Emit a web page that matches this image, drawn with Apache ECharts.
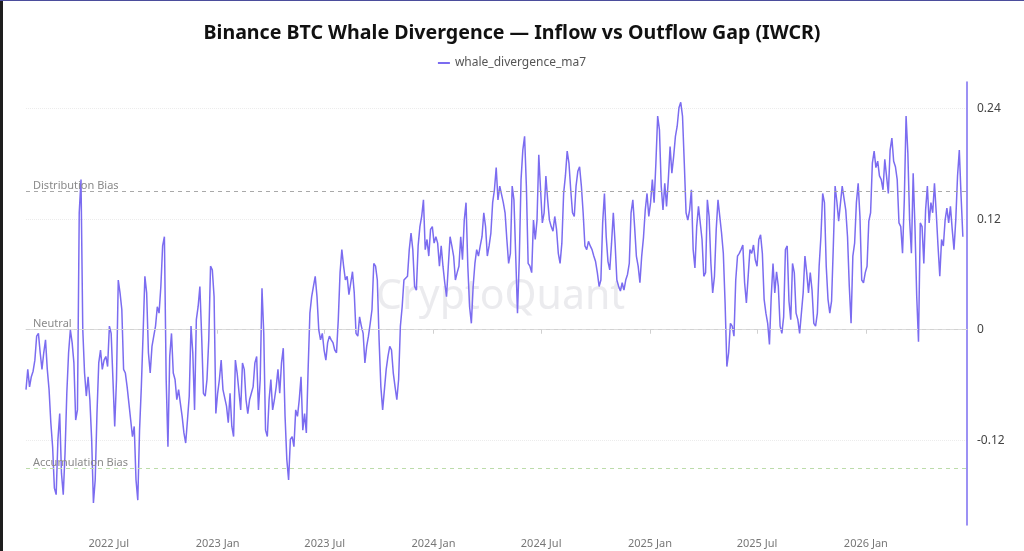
<!DOCTYPE html>
<html>
<head>
<meta charset="utf-8">
<script src="https://cdn.jsdelivr.net/npm/echarts@6/dist/echarts.min.js"></script>
<style>
  html, body { margin: 0; padding: 0; background: #fff; }
  #main { width: 1024px; height: 551px; }
</style>
</head>
<body>
<div id="main"></div>
<script>
// series starts 2022-02-11, one reading every 3 days
const startDate = [2022, 1, 11];
const stepDays = 3;

const whaleDivergenceMa7 = [
  -0.065, -0.043, -0.062, -0.051, -0.045, -0.033, -0.007, -0.004, -0.025, -0.043,
  -0.025, -0.011, -0.043, -0.065, -0.101, -0.127, -0.172, -0.179, -0.119, -0.091,
  -0.156, -0.179, -0.134, -0.069, -0.025, 0, -0.014, -0.036, -0.098, -0.087,
  0.127, 0.163, 0, -0.047, -0.072, -0.051, -0.076, -0.119, -0.188, -0.163,
  -0.091, -0.036, -0.022, -0.043, -0.033, -0.029, -0.040, 0.004, -0.004, -0.054,
  -0.105, -0.054, 0.054, 0.040, 0.022, -0.043, -0.047, -0.062, -0.080, -0.098,
  -0.116, -0.105, -0.163, -0.185, -0.109, -0.062, -0.004, 0.058, 0.040, -0.025,
  -0.047, -0.018, -0.007, 0.004, 0.025, 0.018, 0.047, 0.091, 0.101, -0.054,
  -0.127, -0.029, -0.004, -0.047, -0.054, -0.076, -0.065, -0.080, -0.094, -0.112,
  -0.123, -0.098, -0.072, 0.004, -0.025, -0.087, 0.011, 0.025, 0.047, -0.007,
  -0.069, -0.072, -0.054, -0.011, 0.069, 0.065, 0.036, -0.091, -0.069, -0.054,
  -0.033, -0.065, -0.065, -0.083, -0.101, -0.069, -0.105, -0.116, -0.033, -0.047,
  -0.047, -0.087, -0.036, -0.043, -0.076, -0.091, -0.076, -0.069, -0.062, -0.036,
  -0.029, -0.087, -0.054, 0.045, -0.004, -0.109, -0.116, -0.076, -0.054, -0.087,
  -0.076, -0.062, -0.043, -0.069, -0.036, -0.020, -0.094, -0.141, -0.163, -0.119,
  -0.116, -0.127, -0.087, -0.094, -0.076, -0.051, -0.109, -0.091, -0.112, -0.043,
  0.018, 0.036, 0.047, 0.058, 0.036, 0, -0.011, -0.004, -0.022, -0.033,
  -0.014, -0.007, -0.011, -0.014, -0.022, -0.025, 0.011, 0.062, 0.087, 0.069,
  0.054, 0.058, 0.038, 0.040, 0.063, 0.040, -0.004, -0.007, 0.014, 0.004,
  -0.004, -0.036, -0.018, -0.007, 0.007, 0.022, 0.072, 0.069, 0.054, -0.011,
  -0.062, -0.087, -0.087, -0.043, -0.029, -0.018, -0.022, -0.047, -0.062, -0.076,
  -0.054, 0.004, 0.025, 0.054, 0.054, 0.058, 0.087, 0.105, 0.087, 0.047,
  0.043, 0.091, 0.112, 0.123, 0.141, 0.087, 0.098, 0.080, 0.109, 0.112,
  0.094, 0.101, 0.094, 0.069, 0.091, 0.069, 0.051, 0.036, 0.069, 0.101,
  0.091, 0.080, 0.054, 0.062, 0.069, 0.101, 0.076, 0.119, 0.138, 0.069,
  0.025, 0.007, 0.047, 0.072, 0.087, 0.080, 0.091, 0.101, 0.127, 0.112,
  0.080, 0.091, 0.105, 0.138, 0.152, 0.176, 0.141, 0.156, 0.157, 0.138,
  0.127, 0.098, 0.072, 0.083, 0.156, 0.141, 0.080, 0.018, 0.076, 0.163,
  0.195, 0.210, 0.156, 0.072, 0.069, 0.062, 0.119, 0.098, 0.119, 0.190,
  0.152, 0.116, 0.127, 0.167, 0.141, 0.119, 0.112, 0.107, 0.123, 0.109,
  0.083, 0.072, 0.094, 0.148, 0.167, 0.194, 0.181, 0.152, 0.127, 0.123,
  0.156, 0.172, 0.177, 0.156, 0.127, 0.091, 0.087, 0.096, 0.091, 0.087,
  0.080, 0.074, 0.062, 0.047, 0.054, 0.116, 0.148, 0.101, 0.074, 0.065,
  0.094, 0.127, 0.094, 0.054, 0.047, 0.042, 0.051, 0.043, 0.054, 0.060,
  0.072, 0.127, 0.141, 0.112, 0.080, 0.069, 0.051, 0.080, 0.100, 0.130,
  0.148, 0.123, 0.138, 0.163, 0.138, 0.181, 0.232, 0.217, 0.156, 0.130,
  0.159, 0.134, 0.163, 0.199, 0.170, 0.188, 0.210, 0.221, 0.241, 0.247,
  0.232, 0.181, 0.127, 0.119, 0.130, 0.152, 0.087, 0.067, 0.112, 0.134,
  0.136, 0.098, 0.058, 0.062, 0.141, 0.123, 0.072, 0.040, 0.058, 0.109,
  0.141, 0.139, 0.105, 0.083, 0.029, -0.040, -0.025, 0.007, 0.004, -0.007,
  0.054, 0.080, 0.083, 0.087, 0.092, 0.051, 0.029, 0.058, 0.087, 0.083,
  0.092, 0.076, 0.069, 0.098, 0.103, 0.083, 0.033, 0.018, 0.007, -0.016,
  0.036, 0.072, 0.040, 0.063, 0.047, 0.004, -0.004, 0.014, 0.087, 0.091,
  0.031, 0.011, 0.072, 0.062, 0.018, 0.011, -0.004, -0.004, 0.040, 0.080,
  0.062, 0.040, 0.062, 0.043, 0.007, 0.004, 0.018, 0.069, 0.101, 0.148,
  0.138, 0.069, 0.033, 0.018, 0.031, 0.091, 0.156, 0.139, 0.118, 0.116,
  0.156, 0.156, 0.130, 0.101, 0.047, 0.007, 0.080, 0.094, 0.138, 0.159,
  0.123, 0.054, 0.051, 0.062, 0.069, 0.118, 0.127, 0.181, 0.194, 0.176,
  0.183, 0.167, 0.163, 0.152, 0.185, 0.183, 0.148, 0.195, 0.208, 0.183,
  0.177, 0.163, 0.116, 0.112, 0.083, 0.141, 0.232, 0.192, 0.119, 0.083,
  0.170, 0.112, 0.036, -0.013, 0.116, 0.112, 0.072, 0.130, 0.156, 0.116,
  0.138, 0.127, 0.159, 0.127, 0.091, 0.058, 0.098, 0.091, 0.119, 0.132,
  0.116, 0.134, 0.109, 0.087, 0.119, 0.167, 0.195, 0.145, 0.101
];

const xTickDates = [[2022, 6], [2023, 0], [2023, 6], [2024, 0], [2024, 6], [2025, 0], [2025, 6], [2026, 0]];
const xTickLabels = ['2022 Jul', '2023 Jan', '2023 Jul', '2024 Jan', '2024 Jul', '2025 Jan', '2025 Jul', '2026 Jan'];
const yTickValues = [-0.12, 0, 0.12, 0.24];

const refNames = ['Distribution Bias', 'Neutral', 'Accumulation Bias'];
const refValues = [0.15, 0, -0.15];
const refColors = ['#a9a9a9', '#d2d2d2', '#bcdcaa'];

const LINE_COLOR = '#7b6cf0';
const DAY = 24 * 3600 * 1000;

const t0 = new Date(startDate[0], startDate[1], startDate[2]).getTime();
const seriesData = whaleDivergenceMa7.map((v, i) => [t0 + i * stepDays * DAY, v]);
const tickTimes = xTickDates.map(d => new Date(d[0], d[1], 1).getTime());

const chart = echarts.init(document.getElementById('main'));

chart.setOption({
  backgroundColor: '#fff',
  animation: false,
  textStyle: { fontFamily: 'Noto Sans' },
  title: {
    text: 'Binance BTC Whale Divergence — Inflow vs Outflow Gap (IWCR)',
    left: 'center',
    top: 18,
    textStyle: { fontSize: 19.6, fontWeight: 'bold', color: '#111', fontFamily: 'Noto Sans' }
  },
  legend: {
    top: 52,
    left: 'center',
    icon: 'rect',
    itemWidth: 12,
    itemHeight: 2,
    itemGap: 6,
    textStyle: { fontSize: 12, color: '#555' },
    data: ['whale_divergence_ma7']
  },
  graphic: [
    { type: 'rect', left: 0, top: 0, shape: { width: 3, height: 551 }, style: { fill: '#1e1e1e' }, silent: true },
    { type: 'rect', left: 0, top: 0, shape: { width: 1024, height: 1 }, style: { fill: '#4b4d9c' }, silent: true },
    {
      type: 'text', left: 376, top: 277, silent: true, z: 0,
      style: { text: 'CryptoQuant', fontSize: 41, fontWeight: 'normal', fill: 'rgba(205,205,212,0.4)', fontFamily: 'Noto Sans' }
    }
  ],
  grid: { left: 26, right: 57, top: 82, bottom: 26 },
  xAxis: {
    type: 'value',
    min: t0,
    max: new Date(2026, 5, 21).getTime(),
    axisLine: { lineStyle: { color: '#dcdcdc' } },
    axisTick: { show: true, customValues: tickTimes, length: 4, lineStyle: { color: '#d0d0d0' } },
    axisLabel: {
      customValues: tickTimes,
      color: '#777',
      fontSize: 11,
      margin: 13,
      formatter: v => xTickLabels[tickTimes.indexOf(v)] || ''
    },
    splitLine: { show: false }
  },
  yAxis: {
    type: 'value',
    position: 'right',
    min: -0.212,
    max: 0.269,
    axisLine: { show: true, lineStyle: { color: LINE_COLOR, width: 1.5 } },
    axisTick: { show: false, customValues: yTickValues },
    axisLabel: { customValues: yTickValues, color: '#444', fontSize: 12, margin: 10 },
    splitLine: { show: true, lineStyle: { color: '#ececec', type: 'dotted' } }
  },
  series: [{
    name: 'whale_divergence_ma7',
    type: 'line',
    data: seriesData,
    showSymbol: false,
    symbol: 'none',
    z: 3,
    lineStyle: { color: LINE_COLOR, width: 1.5 },
    itemStyle: { color: LINE_COLOR },
    markLine: {
      silent: true,
      symbol: 'none',
      animation: false,
      data: refValues.map((v, i) => ({
        yAxis: v,
        lineStyle: { color: refColors[i], type: [4, 4], width: i === 0 ? 1.2 : 1 },
        label: {
          show: true,
          formatter: refNames[i],
          position: 'insideStartTop',
          color: '#8a8a8a',
          fontSize: 11,
          distance: [7, 0]
        }
      }))
    }
  }]
});
</script>
</body>
</html>
